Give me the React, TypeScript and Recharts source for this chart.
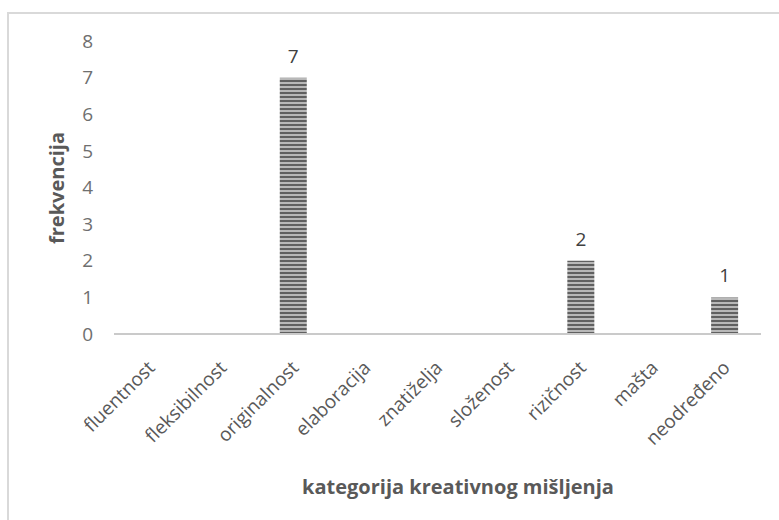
import React from "react"
import { Bar, BarChart, LabelList, XAxis, YAxis, Label } from "recharts"

const categories = [
  "fluentnost",
  "fleksibilnost",
  "originalnost",
  "elaboracija",
  "znatiželja",
  "složenost",
  "rizičnost",
  "mašta",
  "neodređeno",
]
const frequencies = [0, 0, 7, 0, 0, 0, 2, 0, 1]
const yTicks = [0, 1, 2, 3, 4, 5, 6, 7, 8]

const data = categories.map((kategorija, i) => ({ kategorija, frekvencija: frequencies[i] }))

const FONT = "'Open Sans', 'Liberation Sans', sans-serif"

function CategoryTick(props: any) {
  const { x, y, payload } = props
  return (
    <g transform={`translate(${x + 6},${y + 27}) rotate(-45)`}>
      <text x={0} y={0} textAnchor="end" fill="#595959" fontSize={19} fontFamily={FONT}>
        {payload.value}
      </text>
    </g>
  )
}

function ValueLabel(props: any) {
  const { x, y, width, value } = props
  if (!value) return null
  return (
    <text x={x + width / 2} y={y - 15} textAnchor="middle" fill="#404040" fontSize={19} fontFamily={FONT}>
      {value}
    </text>
  )
}

export default function App() {
  return (
    <div style={{ position: "absolute", left: 0, top: 0, width: 779, height: 520, background: "#fff", overflow: "hidden" }}>
      <div
        style={{
          position: "absolute",
          left: 7,
          top: 12,
          width: 800,
          height: 540,
          borderTop: "2px solid #d9d9d9",
          borderLeft: "2px solid #d9d9d9",
        }}
      />
      <div style={{ position: "absolute", left: 0, top: 0 }}>
        <BarChart width={779} height={520} data={data} margin={{ top: 41, right: 18, bottom: 36, left: 0 }}>
          <defs>
            <pattern id="stripes" patternUnits="userSpaceOnUse" width={4} height={4}>
              <rect x={0} y={0} width={4} height={4} fill="#b8b8b8" />
              <rect x={0} y={0} width={4} height={2} fill="#606060" />
            </pattern>
          </defs>
          <XAxis
            dataKey="kategorija"
            interval={0}
            tickLine={false}
            axisLine={{ stroke: "#cacaca", strokeWidth: 2 }}
            height={150}
            tick={<CategoryTick />}
          >
            <Label
              content={() => (
                <text
                  x={458}
                  y={494}
                  textAnchor="middle"
                  fill="#595959"
                  fontSize={20}
                  fontWeight="bold"
                  fontFamily={FONT}
                >
                  kategorija kreativnog mišljenja
                </text>
              )}
            />
          </XAxis>
          <YAxis
            width={114}
            domain={[0, 8]}
            ticks={yTicks}
            interval={0}
            axisLine={false}
            tickLine={false}
            tickMargin={15}
            tick={{ fill: "#6f6f6f", fontSize: 19, fontFamily: FONT }}
          >
            <Label
              content={() => (
                <text
                  x={0}
                  y={0}
                  transform="translate(64,188) rotate(-90)"
                  textAnchor="middle"
                  fill="#595959"
                  fontSize={20}
                  fontWeight="bold"
                  fontFamily={FONT}
                >
                  frekvencija
                </text>
              )}
            />
          </YAxis>
          <Bar dataKey="frekvencija" barSize={27} fill="url(#stripes)" isAnimationActive={false}>
            <LabelList dataKey="frekvencija" content={<ValueLabel />} />
          </Bar>
        </BarChart>
      </div>
    </div>
  )
}
